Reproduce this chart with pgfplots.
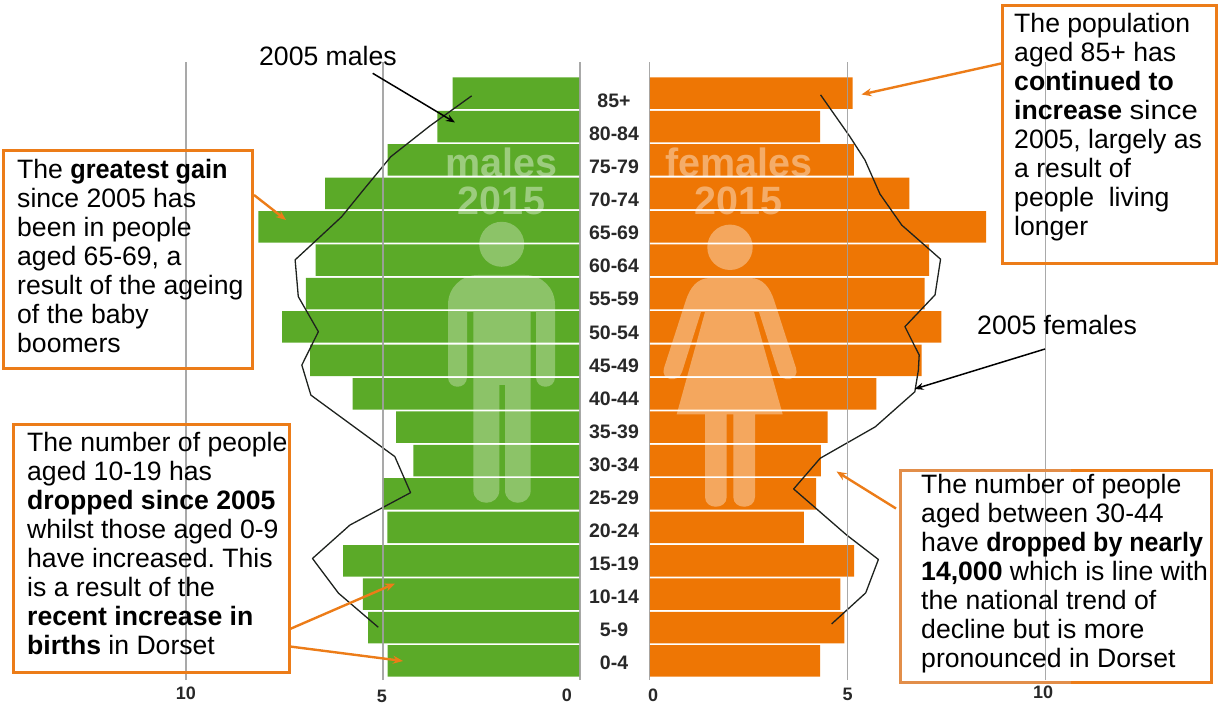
\documentclass[border=0pt]{standalone}
\usepackage{fontspec}
\setmainfont{Liberation Sans}
\usepackage{graphicx}
\usepackage{pgfplots}
\pgfplotsset{compat=1.18}
\usetikzlibrary{arrows.meta}
\definecolor{mgreen}{RGB}{91,170,40}
\definecolor{forange}{RGB}{238,118,4}
\definecolor{boxorange}{RGB}{236,124,24}
\definecolor{boxfade}{RGB}{226,142,74}
\definecolor{gridg}{RGB}{160,160,160}
\definecolor{lineblk}{RGB}{30,34,30}
\definecolor{labk}{RGB}{40,40,40}
\pgfplotsset{pyr/.style={
  scale only axis, height=618pt,
  xmin=0, xmax=10, ymin=-0.569, ymax=17.934,
  xtick={0,5,10},
  xmajorgrids, major grid style={gridg,line width=1.8pt,opacity=0.9},
  axis line style={draw=none}, major tick length=0pt,
  axis on top, clip=false,
  tick label style={font=\fontsize{18pt}{20pt}\selectfont\bfseries,text=labk},
  xticklabel style={yshift=-5pt},
}}
\newcommand{\btext}[1]{\textbf{#1}}
\begin{document}
\frenchspacing
\begin{tikzpicture}
\path[use as bounding box] (0,0) rectangle (1225pt,707pt);
% males
\begin{axis}[pyr, at={(186pt,27pt)}, anchor=south west, width=394pt, x dir=reverse,
  ytick=\empty,
  xticklabels={{\makebox[0pt][c]{\kern-26pt 0}},{\raisebox{-2pt}[\height][\depth]{\makebox[0pt][c]{\kern-2pt 5}}},{\raisebox{2pt}[\height][\depth]{10}}}]
\addplot[xbar, bar width=31.5pt, bar shift=0pt, fill=mgreen, draw=none] coordinates {
(4.88,0) (5.38,1) (5.51,2) (6.01,3) (4.89,4) (5.01,5) (4.23,6) (4.67,7) (5.77,8)
(6.85,9) (7.56,10) (6.96,11) (6.71,12) (8.16,13) (6.47,14) (4.88,15) (3.62,16) (3.23,17)};
\addplot[lineblk, line width=1.3pt, line join=round] coordinates {
(5.12,1.01) (6.13,2.03) (6.79,3.07) (5.84,4.07) (4.30,5.04) (4.70,6.12) (6.83,7.96)
(7.06,8.86) (6.64,9.86) (7.15,10.91) (7.23,12.01) (6.05,13.30) (5.50,14.10) (4.80,15.10) (3.81,16.02) (2.75,16.92)};
\end{axis}
% females
\begin{axis}[pyr, at={(649.5pt,27pt)}, anchor=south west, width=396pt,
  ytick={-0.06,0.93,1.92,2.91,3.90,4.89,5.88,6.87,7.86,8.85,9.84,10.83,11.82,12.81,13.80,14.79,15.78,16.77},
  yticklabels={0-4,5-9,10-14,15-19,20-24,25-29,30-34,35-39,40-44,45-49,50-54,55-59,60-64,65-69,70-74,75-79,80-84,85+},
  yticklabel style={anchor=center,xshift=-35.5pt,font=\fontsize{19.5pt}{21pt}\selectfont\bfseries,text=labk},
  xticklabels={{\makebox[0pt][c]{\kern7pt 0}},{5},{\raisebox{3pt}[\height][\depth]{\makebox[0pt][c]{\kern-5pt 10}}}}]
\addplot[xbar, bar width=31.5pt, bar shift=0pt, fill=forange, draw=none] coordinates {
(4.31,0) (4.92,1) (4.82,2) (5.17,3) (3.90,4) (4.21,5) (4.33,6) (4.50,7) (5.73,8)
(6.87,9) (7.37,10) (6.95,11) (7.06,12) (8.50,13) (6.56,14) (5.16,15) (4.31,16) (5.13,17)};
\addplot[lineblk, line width=1.3pt, line join=round] coordinates {
(4.60,1.11) (5.46,2.04) (5.78,3.04) (4.98,3.77) (3.64,5.15) (4.31,6.07) (5.70,7.01)
(6.70,8.06) (6.79,8.71) (6.81,9.16) (6.45,10.01) (7.21,10.96) (7.35,12.03) (6.37,13.05)
(5.82,13.98) (5.44,15.00) (5.06,15.70) (4.32,16.95)};
\end{axis}
% overlays in image pixel coordinates
\begin{scope}[x=1pt,y=-1pt,yshift=707pt]
% silhouettes
\fill[white,opacity=0.3] (501.7,244.3) circle (22.5pt);
\fill[white,opacity=0.3] (448,377) -- (448,305) .. controls (448,288) and (461,275) .. (478,275)
 -- (525,275) .. controls (542,275) and (555,288) .. (555,305) -- (555,377)
 .. controls (555,390) and (536,390) .. (536,377) -- (536,312) -- (530.7,312) -- (530.7,490)
 .. controls (530.7,507) and (505,507) .. (505,490) -- (505,385) -- (499.3,385) -- (499.3,490)
 .. controls (499.3,507) and (473.3,507) .. (473.3,490) -- (473.3,312) -- (467,312) -- (467,377)
 .. controls (467,390) and (448,390) .. (448,377) -- cycle;
\fill[white,opacity=0.36] (730,247.3) circle (22.7pt);
\fill[white,opacity=0.36] (664,368) -- (686,300) .. controls (690,288) and (697,278) .. (710,278)
 -- (750,278) .. controls (763,278) and (770,288) .. (774,300) -- (796,368)
 .. controls (800,380) and (782,384) .. (778,372) -- (759,312) -- (754,312) -- (782.7,414.3) -- (755,414.3) -- (755,497)
 .. controls (755,510) and (733.3,510) .. (733.3,497) -- (733.3,414.3) -- (726.7,414.3) -- (726.7,497)
 .. controls (726.7,510) and (705,510) .. (705,497) -- (705,414.3) -- (676.7,414.3) -- (705,312)
 -- (701,312) -- (682,372) .. controls (678,384) and (660,380) .. (664,368) -- cycle;
\tikzset{ghost/.style={text=white,text opacity=0.4,font=\fontsize{39.5pt}{42pt}\selectfont\bfseries,inner sep=0pt}}
\node[ghost] at (501.7,162) {males};
\node[ghost] at (501.7,201) {2015};
\node[ghost] at (738.7,162) {females};
\node[ghost] at (738.7,201) {2015};
% boxes
\tikzset{bx/.style={draw=boxorange,line width=3pt},
 tb/.style={anchor=north west,align=left,inner sep=0pt,font=\fontsize{26.6pt}{29pt}\selectfont}}
\draw[bx] (3,151) rectangle (252.5,369);
\draw[bx] (13,424.5) rectangle (289,672);
\draw[bx] (1002,6) rectangle (1216.5,263.5);
\draw[bx] (900,471) rectangle (1211,682);
\draw[draw=boxfade,line width=3pt] (1071,471) -- (900,471) -- (900,682) -- (1071,682);
\node[tb] at (17,159) {The \scalebox{0.95}[1]{\btext{greatest gain}}\\since 2005 has\\been in people\\aged 65-69, a\\result of the ageing\\of the baby\\boomers};
\node[tb] at (27,432.5) {The number of people\\aged 10-19 has\\\btext{dropped since 2005}\\whilst those aged 0-9\\have increased. This\\is a result of the\\\btext{recent increase in}\\\btext{births} in Dorset};
\node[tb] at (1014,13) {The population\\aged 85+ has\\\btext{continued to}\\\btext{increase} \scalebox{1.1}[1]{since}\\2005, largely as\\a result of\\people\ \ living\\longer};
\node[tb] at (921,474) {The number of people\\aged between 30-44\\have \scalebox{0.94}[1]{\btext{dropped by nearly}}\\\btext{14,000} which is line with\\the national trend of\\decline but is more\\pronounced in Dorset};
% labels
\node[font=\fontsize{26.6pt}{29pt}\selectfont,anchor=base west,inner sep=0pt] at (259,66) {2005 males};
\node[font=\fontsize{26.6pt}{29pt}\selectfont,anchor=base west,inner sep=0pt] at (977,334.5) {2005 females};
% arrows
\draw[black,line width=1.5pt,-{Stealth[length=9pt,width=7pt]}] (372.7,73.3) -- (455,122.5);
\draw[black,line width=1.5pt,-{Stealth[length=9pt,width=7pt]}] (1045,349) -- (914.5,389);
\tikzset{oar/.style={boxorange,line width=2.4pt,-{Stealth[length=10pt,width=8pt]}}}
\draw[oar] (254,195) -- (286,220);
\draw[oar] (1001,63.5) -- (861.5,94.5);
\draw[oar] (896,508.5) -- (836.5,471.5);
\draw[oar] (290,629) -- (395,583.5);
\draw[oar] (290,646.5) -- (403,661);
\end{scope}
\end{tikzpicture}
\end{document}
